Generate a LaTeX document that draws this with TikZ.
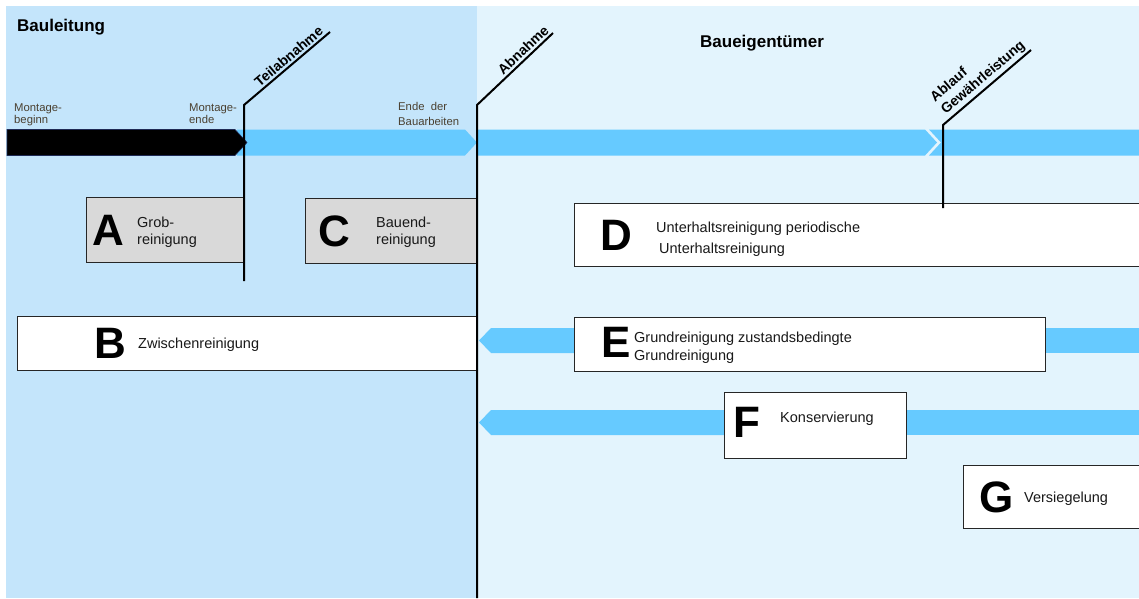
\documentclass[tikz,border=0pt]{standalone}
\usepackage{fontspec}
\setmainfont{Liberation Sans}
\definecolor{leftbg}{HTML}{C4E5FB}
\definecolor{rightbg}{HTML}{E3F4FD}
\definecolor{barblue}{HTML}{66CAFF}
\definecolor{boxgray}{HTML}{D9D9D9}
\definecolor{labelbrown}{HTML}{4A4030}
\definecolor{barnavy}{HTML}{1F2A55}
\begin{document}
\begin{tikzpicture}[x=1pt,y=-1pt,
  box/.style={draw=black!85, line width=1pt, fill=white, anchor=north west, inner sep=0pt},
  graybox/.style={box, fill=boxgray},
  letter/.style={font=\fontsize{44}{44}\selectfont\bfseries, anchor=base west, inner sep=0pt},
  btext/.style={font=\fontsize{14.5}{17}\selectfont, anchor=base west, inner sep=0pt, text=black!90},
  small/.style={font=\fontsize{11.3}{13}\selectfont, anchor=base west, inner sep=0pt, text=labelbrown},
  mile/.style={draw=black, line width=2pt},
  milelabel/.style={font=\fontsize{14}{16.5}\selectfont\bfseries, sloped, above, inner sep=2pt},
  bar/.style={fill=barblue},
]
\useasboundingbox (0,0) rectangle (1139,598);
\fill[white] (0,0) rectangle (1139,598);
\fill[leftbg] (6,6) rectangle (477,598);
\fill[rightbg] (477,6) rectangle (1139,598);

% headings
\node[anchor=base west, inner sep=0pt, font=\fontsize{17}{20}\selectfont\bfseries] (hl) at (17,31) {Bauleitung};
\node[anchor=base, inner sep=0pt, font=\fontsize{17}{20}\selectfont\bfseries] (hr) at (762,47) {Baueigentümer};

% main timeline
\fill[bar] (237,129.5) -- (465,129.5) -- (477,142.5) -- (465,155.5) -- (237,155.5) -- cycle;
\filldraw[fill=black, draw=barnavy, line width=0.6pt] (7,129.5) -- (235,129.5) -- (247,142.5) -- (235,155.5) -- (7,155.5) -- cycle;
\fill[bar] (477,129.5) -- (925,129.5) -- (937,142.5) -- (925,155.5) -- (477,155.5) -- cycle;
\fill[bar] (929,129.5) -- (1139,129.5) -- (1139,155.5) -- (929,155.5) -- (941,142.5) -- cycle;

% small labels
\node[small] (mb1) at (14,111) {Montage-};
\node[small] (mb2) at (14,123) {beginn};
\node[small] (me1) at (189,111) {Montage-};
\node[small] (me2) at (189,123) {ende};
\node[small] (eb1) at (398,110) {Ende\ \ der};
\node[small] (eb2) at (398,125) {Bauarbeiten};

% side bars for E and F
\fill[bar] (479,340.5) -- (491,328) -- (574,328) -- (574,353) -- (491,353) -- cycle;
\fill[bar] (1045,328) -- (1139,328) -- (1139,353) -- (1045,353) -- cycle;
\fill[bar] (479,422.5) -- (491,410) -- (724,410) -- (724,435) -- (491,435) -- cycle;
\fill[bar] (906,410) -- (1139,410) -- (1139,435) -- (906,435) -- cycle;

% boxes
\node[graybox, minimum width=158pt, minimum height=65pt] (boxA) at (86,197) {};
\node[graybox, minimum width=172pt, minimum height=65pt] (boxC) at (305,198) {};
\node[box, minimum width=570pt, minimum height=63pt] (boxD) at (574,203) {};
\node[box, minimum width=460pt, minimum height=54pt] (boxB) at (17,316) {};
\node[box, minimum width=471pt, minimum height=54pt] (boxE) at (574,317) {};
\node[box, minimum width=182pt, minimum height=66pt] (boxF) at (724,392) {};
\node[box, minimum width=180pt, minimum height=63pt] (boxG) at (963,465) {};

% box contents
\node[letter] (lA) at (92,245) {A};
\node[btext] (tA1) at (137,227) {Grob-};
\node[btext] (tA2) at (137,244) {reinigung};
\node[letter] (lC) at (318,246) {C};
\node[btext] (tC1) at (376,227) {Bauend-};
\node[btext] (tC2) at (376,244) {reinigung};
\node[letter] (lB) at (94,358) {B};
\node[btext] (tB) at (138,348) {Zwischenreinigung};
\node[letter] (lD) at (600,250) {D};
\node[btext] (tD1) at (656,232) {Unterhaltsreinigung periodische};
\node[btext] (tD2) at (659,253) {Unterhaltsreinigung};
\node[letter] (lE) at (601,357) {E};
\node[btext] (tE1) at (634,342) {Grundreinigung zustandsbedingte};
\node[btext] (tE2) at (634,360) {Grundreinigung};
\node[letter] (lF) at (733,437) {F};
\node[btext] (tF) at (780,422) {Konservierung};
\node[letter] (lG) at (979,512) {G};
\node[btext] (tG) at (1024,502) {Versiegelung};

% milestones
\coordinate (t0) at (244,281);
\coordinate (t1) at (244,105);
\coordinate (t2) at (330,32);
\draw[mile] (t0) -- (t1) -- node[milelabel, pos=0.58] (lt) {Teilabnahme} (t2);
\coordinate (a0) at (477,598);
\coordinate (a1) at (477,105);
\coordinate (a2) at (553,33);
\draw[mile] (a0) -- (a1) -- node[milelabel, pos=0.68] (la) {Abnahme} (a2);
\coordinate (g0) at (943,208);
\coordinate (g1) at (943,125);
\coordinate (g2) at (1031,50);
\draw[mile] (g0) -- (g1) -- node[milelabel, pos=0.53, align=left] (lg) {Ablauf\\Gewährleistung} (g2);
\end{tikzpicture}
\end{document}
